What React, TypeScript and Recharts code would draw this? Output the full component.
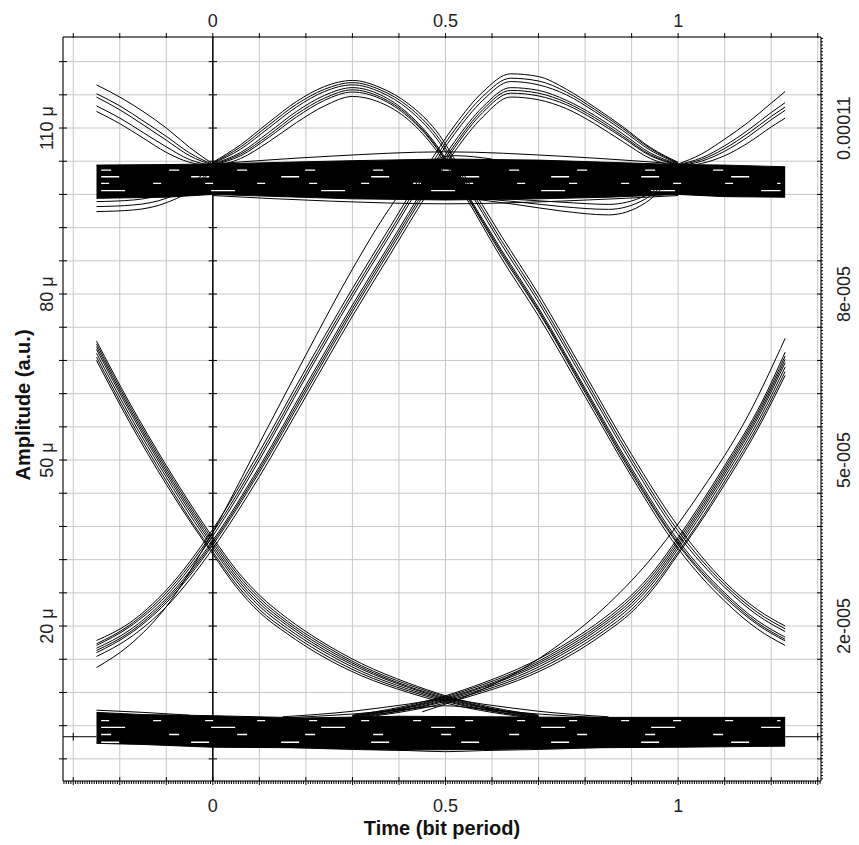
import React from 'react';
import { ComposedChart, Line, Area, XAxis, YAxis, CartesianGrid, ReferenceLine } from 'recharts';

const FONT = '"Liberation Sans", Arial, sans-serif';

// Axis domains (time in bit periods, amplitude in µ a.u.)
const X_DOMAIN = [-0.322, 1.307];
const Y_DOMAIN = [-8.0, 126.45];

// Tick positions and labels
const TOP_TICKS = [-0.3, -0.2, -0.1, 0, 0.1, 0.2, 0.3, 0.4, 0.5, 0.6, 0.7, 0.8, 0.9, 1.0, 1.1, 1.2, 1.3];
const X_LABELS = [0, 0.5, 1];
const BOTTOM_MINOR_STEP = 0.005;
const BOTTOM_TICKS = Array.from({ length: 326 }, (_, i) => +(-0.32 + i * BOTTOM_MINOR_STEP).toFixed(3));
const LEFT_TICKS = [-4, 2, 8, 14, 20, 26, 32, 38, 44, 50, 56, 62, 68, 74, 80, 86, 92, 98, 104, 110, 116, 122];
const LEFT_LABELS: Record<number, string> = { 20: '20 μ', 50: '50 μ', 80: '80 μ', 110: '110 μ' };
const RIGHT_LABELS: Record<number, string> = { 20: '2e-005', 50: '5e-005', 80: '8e-005', 110: '0.00011' };
const RIGHT_MINOR_STEP = 0.6;
const RIGHT_TICKS = Array.from({ length: 224 }, (_, i) => +(-7.6 + i * RIGHT_MINOR_STEP).toFixed(1));

// ---- Upper ("1") level band ----
const UB_X = [-0.25, -0.1, 0, 0.15, 0.3, 0.5, 0.7, 0.85, 1.0, 1.1, 1.23];
const UB_LO = [97.3, 97.5, 98.0, 97.6, 97.2, 97.0, 97.2, 97.5, 98.0, 97.6, 97.5];
const UB_HI = [103.3, 103.4, 103.5, 103.8, 104.1, 104.4, 104.2, 103.8, 103.4, 103.3, 103.0];
const UB_TEX_Y = [102.4, 101.2, 100.0, 98.7];
const LB_TEX_Y = [2.9, 1.7, 0.4, -1.0];

// ---- Lower ("0") level band ----
const LB_X = [-0.25, -0.15, 0, 0.2, 0.4, 0.6, 0.8, 1.0, 1.23];
const LB_LO = [-1.2, -1.4, -1.9, -2.0, -2.4, -2.3, -2.0, -1.9, -1.7];
const LB_HI = [4.4, 4.0, 3.8, 3.4, 3.7, 3.6, 3.5, 3.5, 3.5];

// ---- Hump after t=0 continuing into the falling edge (1 -> 0) ----
const H1F2_X = [0, 0.06, 0.12, 0.18, 0.24, 0.3, 0.36, 0.42, 0.48, 0.54, 0.62, 0.7, 0.8, 0.9, 1.0, 1.1, 1.17, 1.23];
const H1F2_Y = [
  [103.8, 107.0, 111.0, 114.8, 117.5, 118.6, 117.3, 114.4, 109.5, 101.5, 90.5, 80.0, 65.5, 51.0, 38.0, 28.0, 23.0, 20.0],
  [103.7, 106.6, 110.5, 114.3, 117.0, 118.2, 116.9, 113.9, 108.8, 100.8, 89.7, 79.2, 64.7, 50.2, 37.2, 27.5, 22.5, 19.5],
  [103.6, 106.2, 110.0, 113.8, 116.6, 117.8, 116.5, 113.4, 108.2, 100.2, 89.0, 78.5, 64.0, 49.5, 36.5, 27.0, 22.0, 19.0],
  [103.5, 105.6, 109.2, 113.0, 115.9, 117.3, 116.0, 112.6, 107.0, 99.0, 88.0, 77.5, 63.0, 48.5, 35.5, 26.0, 21.0, 18.0],
  [103.4, 105.3, 108.7, 112.5, 115.4, 116.9, 115.6, 112.3, 106.7, 98.7, 87.6, 77.1, 62.6, 48.0, 35.0, 25.6, 20.6, 17.6],
  [103.3, 105.0, 108.3, 112.0, 115.0, 116.5, 115.3, 112.0, 106.5, 98.5, 87.2, 76.8, 62.2, 47.6, 34.7, 25.2, 20.3, 17.3],
  [103.0, 104.5, 107.5, 111.0, 114.0, 115.7, 114.6, 111.5, 106.0, 98.0, 86.5, 76.0, 61.5, 47.0, 34.0, 24.5, 19.5, 16.5],
];

// ---- Rising edge (0 -> 1) continuing into the hump before t=1 ----
const R1H2_X = [-0.25, -0.18, -0.1, 0, 0.1, 0.2, 0.3, 0.38, 0.46, 0.52, 0.58, 0.64, 0.7, 0.76, 0.82, 0.88, 0.94, 1.0];
const R1H2_Y = [
  [17.4, 20.5, 26.5, 37.5, 51.5, 66.5, 81.0, 92.0, 103.0, 110.5, 116.5, 119.8, 119.3, 117.0, 113.8, 110.3, 106.5, 103.8],
  [16.8, 20.1, 26.0, 36.9, 50.7, 65.7, 80.2, 91.2, 102.2, 109.7, 115.7, 119.0, 118.5, 116.5, 113.4, 110.0, 106.3, 103.7],
  [16.5, 19.8, 25.5, 36.3, 50.0, 65.0, 79.5, 90.5, 101.5, 109.0, 115.0, 118.4, 117.8, 116.0, 113.0, 109.6, 106.0, 103.6],
  [16.0, 19.2, 25.0, 35.5, 48.8, 63.5, 78.0, 89.0, 100.0, 107.6, 113.8, 117.3, 116.8, 115.0, 112.3, 109.0, 105.5, 103.5],
  [15.6, 18.8, 24.6, 35.1, 48.3, 62.9, 77.4, 88.4, 99.4, 107.0, 113.3, 116.8, 116.3, 114.6, 111.9, 108.6, 105.2, 103.4],
  [15.2, 18.5, 24.2, 34.7, 47.8, 62.3, 76.8, 87.8, 98.8, 106.5, 112.8, 116.3, 115.8, 114.2, 111.5, 108.3, 105.0, 103.3],
  [14.5, 17.8, 23.5, 34.0, 47.0, 61.5, 76.0, 87.0, 98.0, 105.8, 112.0, 115.6, 115.1, 113.5, 110.8, 107.6, 104.5, 103.0],
];
const R1_OUT_X = [-0.25, -0.18, -0.1, 0, 0.1, 0.2, 0.3, 0.38, 0.45, 0.52, 0.6];
const R1_OUT_Y = [12.5, 16.5, 23.5, 37.0, 53.0, 69.0, 84.5, 95.5, 103.0, 105.0, 104.4];

// ---- Tails of the humps at the window edges ----
const TL_X = [-0.25, -0.2, -0.15, -0.1, -0.05, 0];
const TL_Y = [
  [117.8, 115.6, 113.0, 110.0, 106.5, 103.5],
  [116.2, 114.0, 111.3, 108.5, 105.5, 103.4],
  [115.6, 113.3, 110.6, 107.8, 105.0, 103.3],
  [114.0, 111.8, 109.2, 106.6, 104.3, 103.2],
  [113.0, 110.8, 108.2, 105.6, 103.8, 103.2],
];
const TR_X = [1.0, 1.05, 1.1, 1.15, 1.2, 1.23];
const TR_Y = [
  [103.5, 105.3, 108.0, 111.0, 114.5, 116.6],
  [103.4, 104.6, 106.8, 109.6, 112.8, 114.6],
  [103.3, 104.3, 106.3, 109.0, 112.1, 113.8],
  [103.2, 104.0, 105.8, 108.4, 111.5, 113.2],
  [103.1, 103.6, 105.0, 107.3, 110.2, 111.8],
];

// ---- Falling edge into the low level (after t=0) ----
const F1_X = [-0.25, -0.18, -0.1, -0.04, 0, 0.05, 0.1, 0.16, 0.23, 0.32, 0.42, 0.5, 0.6, 0.7];
const F1_Y = [
  [71.5, 60.5, 49.0, 41.0, 36.0, 30.2, 25.6, 21.4, 17.4, 13.2, 9.7, 7.4, 5.3, 3.9],
  [71.0, 60.0, 48.5, 40.5, 35.5, 29.7, 25.1, 20.9, 17.0, 12.8, 9.4, 7.2, 5.1, 3.8],
  [70.5, 59.5, 48.0, 40.0, 35.0, 29.2, 24.6, 20.5, 16.6, 12.5, 9.1, 7.0, 5.0, 3.7],
  [70.0, 59.0, 47.5, 39.5, 34.5, 28.7, 24.1, 20.1, 16.2, 12.2, 8.9, 6.8, 4.9, 3.6],
  [69.3, 58.3, 46.9, 38.9, 34.0, 28.2, 23.6, 19.6, 15.8, 11.8, 8.6, 6.6, 4.7, 3.5],
  [68.6, 57.6, 46.2, 38.2, 33.4, 27.6, 23.0, 19.1, 15.3, 11.4, 8.3, 6.4, 4.6, 3.4],
  [68.0, 57.0, 45.6, 37.8, 33.0, 27.1, 22.5, 18.6, 14.8, 11.0, 8.0, 6.1, 4.4, 3.3],
];

// ---- Rising edge out of the low level (before t=1) ----
const R2_X = [0.3, 0.4, 0.5, 0.58, 0.68, 0.77, 0.84, 0.9, 0.95, 1.0, 1.04, 1.1, 1.18, 1.23];
const R2_Y = [
  [3.9, 5.3, 7.4, 9.7, 13.2, 17.4, 21.4, 25.6, 30.2, 36.0, 41.0, 49.0, 60.5, 69.5],
  [3.8, 5.1, 7.2, 9.4, 12.8, 17.0, 20.9, 25.1, 29.7, 35.5, 40.5, 48.5, 60.0, 68.8],
  [3.7, 5.0, 7.0, 9.1, 12.5, 16.6, 20.5, 24.6, 29.2, 35.0, 40.0, 48.0, 59.5, 68.2],
  [3.6, 4.9, 6.8, 8.9, 12.2, 16.2, 20.1, 24.1, 28.7, 34.5, 39.5, 47.5, 59.0, 67.6],
  [3.5, 4.7, 6.6, 8.6, 11.8, 15.8, 19.6, 23.6, 28.2, 34.0, 38.9, 46.9, 58.3, 66.8],
  [3.4, 4.6, 6.4, 8.3, 11.4, 15.3, 19.1, 23.0, 27.6, 33.4, 38.2, 46.2, 57.6, 66.0],
  [3.3, 4.4, 6.1, 8.0, 11.0, 14.8, 18.6, 22.5, 27.1, 33.0, 37.8, 45.6, 57.0, 65.3],
];
const R2_OUT_X = [0.45, 0.55, 0.65, 0.75, 0.85, 0.95, 1.05, 1.15, 1.23];
const R2_OUT_Y = [4.5, 7.5, 11.5, 17.0, 24.0, 33.0, 44.5, 58.0, 72.0];

// ---- Band edge traces ----
const UB_SP_X = [0, 0.25, 0.5, 0.75, 1.0];
const UB_SP_Y = [
  [103.5, 104.9, 105.7, 104.9, 103.5],
  [97.8, 96.8, 96.3, 96.8, 97.8],
];
const UB_DIPL_X = [-0.25, -0.17, -0.1, -0.04, 0.0];
const UB_DIPL_Y = [
  [96.7, 97.0, 98.2, 100.5, 103.0],
  [95.8, 96.1, 97.3, 99.8, 102.8],
  [94.9, 95.2, 96.5, 99.2, 102.6],
];
const UB_DIPR_X = [0.55, 0.65, 0.75, 0.85, 0.93, 1.0];
const UB_DIPR_Y = [
  [97.3, 96.2, 95.0, 94.3, 96.5, 102.5],
  [97.4, 96.7, 95.8, 95.3, 97.2, 102.7],
  [97.5, 97.1, 96.6, 96.2, 97.8, 102.9],
];
const LB_SP_X = [0.15, 0.3, 0.42, 0.5, 0.58, 0.7, 0.85];
const LB_SP_Y = [
  [3.6, 4.6, 5.9, 6.8, 5.9, 4.6, 3.6],
  [3.4, 4.1, 5.0, 5.6, 5.0, 4.1, 3.4],
  [-1.9, -2.3, -2.5, -2.7, -2.5, -2.3, -1.9],
];
const LB_LEFT_X = [-0.25, -0.15, -0.05];
const LB_LEFT_Y = [4.8, 4.4, 3.9];

const DATA_START = -0.25;
const DATA_END = 1.23;

const isMult = (v: number, base: number, step: number) => {
  const q = (v - base) / step;
  return Math.abs(q - Math.round(q)) < 1e-6;
};

const toPts = (xs: number[], ys: number[]) => xs.map((x, i) => ({ x, y: ys[i] }));

const BottomTick = (props: any) => {
  const { x, y, payload } = props;
  const v = payload.value as number;
  const major = isMult(v, 0, 0.1);
  const label = X_LABELS.find((l) => Math.abs(l - v) < 1e-6);
  return (
    <g>
      <line x1={x} x2={x} y1={major ? y - 4 : y} y2={major ? y + 4 : y + 3} stroke="#000" strokeWidth={1} />
      {label !== undefined && (
        <text x={x} y={y + 31} textAnchor="middle" fontSize={18} fill="#222" fontFamily={FONT}>
          {String(label)}
        </text>
      )}
    </g>
  );
};

const TopTick = (props: any) => {
  const { x, y, payload } = props;
  const v = payload.value as number;
  const label = X_LABELS.find((l) => Math.abs(l - v) < 1e-6);
  return (
    <g>
      <line x1={x} x2={x} y1={y - 4} y2={y + 1} stroke="#000" strokeWidth={1} />
      {label !== undefined && (
        <text x={x} y={y - 10} textAnchor="middle" fontSize={18} fill="#222" fontFamily={FONT}>
          {String(label)}
        </text>
      )}
    </g>
  );
};

const LeftTick = (props: any) => {
  const { x, y, payload } = props;
  const v = payload.value as number;
  const label = LEFT_LABELS[v];
  return (
    <g>
      <line x1={x - 4} x2={x + 4} y1={y} y2={y} stroke="#000" strokeWidth={1} />
      {label && (
        <text x={x - 10} y={y} transform={`rotate(-90, ${x - 10}, ${y})`} textAnchor="middle" fontSize={18} fill="#222" fontFamily={FONT}>
          {label}
        </text>
      )}
    </g>
  );
};

const RightTick = (props: any) => {
  const { x, y, payload } = props;
  const v = payload.value as number;
  const major = isMult(v, -4, 6);
  const label = RIGHT_LABELS[Math.round(v)];
  return (
    <g>
      <line x1={major ? x - 4 : x} x2={x + 2} y1={y} y2={y} stroke="#000" strokeWidth={1} />
      {major && label && (
        <text x={x + 29} y={y} transform={`rotate(-90, ${x + 29}, ${y})`} textAnchor="middle" fontSize={18} fill="#222" fontFamily={FONT}>
          {label}
        </text>
      )}
    </g>
  );
};

const BottomTitle = (props: any) => {
  const vb = props.viewBox || { x: 55, y: 773, width: 758, height: 44 };
  return (
    <text x={vb.x + vb.width / 2} y={vb.y + 54} textAnchor="middle" fontSize={20} fontWeight="bold" fill="#111" fontFamily={FONT}>
      Time (bit period)
    </text>
  );
};

const LeftTitle = (props: any) => {
  const vb = props.viewBox || { x: 10, y: 29, width: 45, height: 744 };
  const cx = vb.x + 12;
  const cy = vb.y + vb.height / 2 - 4;
  return (
    <text x={cx} y={cy} transform={`rotate(-90, ${cx}, ${cy})`} textAnchor="middle" fontSize={20} fontWeight="bold" fill="#111" fontFamily={FONT}>
      Amplitude (a.u.)
    </text>
  );
};

const curve = (key: string, xs: number[], ys: number[], w = 1, color = '#000', dash?: string) => (
  <Line
    key={key}
    data={toPts(xs, ys)}
    dataKey="y"
    xAxisId="b"
    yAxisId="l"
    type="monotone"
    stroke={color}
    strokeWidth={w}
    strokeDasharray={dash}
    dot={false}
    activeDot={false}
    isAnimationActive={false}
    legendType="none"
  />
);

const band = (key: string, xs: number[], lo: number[], hi: number[]) => (
  <Area
    key={key}
    data={xs.map((x, i) => ({ x, r: [lo[i], hi[i]] }))}
    dataKey="r"
    xAxisId="b"
    yAxisId="l"
    type="linear"
    stroke="#000"
    strokeWidth={1}
    fill="#000"
    fillOpacity={1}
    dot={false}
    activeDot={false}
    isAnimationActive={false}
  />
);

const TEX_DASH = ['10 58', '18 72', '8 44', '24 86'];

export default function App() {
  return (
    <div style={{ width: 851, height: 837, background: '#fff' }}>
      <ComposedChart width={851} height={837} margin={{ top: 4, right: 8, bottom: 20, left: 10 }}>
        <CartesianGrid xAxisId="t" yAxisId="l" stroke="#c8c8c8" strokeWidth={1} />
        <XAxis
          xAxisId="b"
          dataKey="x"
          type="number"
          orientation="bottom"
          domain={X_DOMAIN}
          allowDataOverflow
          ticks={BOTTOM_TICKS}
          interval={0}
          tick={<BottomTick />}
          tickLine={false}
          tickSize={0}
          tickMargin={0}
          height={44}
          axisLine={{ stroke: '#000', strokeWidth: 1 }}
          label={(p: any) => <BottomTitle {...p} />}
        />
        <XAxis
          xAxisId="t"
          dataKey="x"
          type="number"
          orientation="top"
          domain={X_DOMAIN}
          allowDataOverflow
          ticks={TOP_TICKS}
          interval={0}
          tick={<TopTick />}
          tickLine={false}
          tickSize={0}
          tickMargin={0}
          height={25}
          axisLine={{ stroke: '#000', strokeWidth: 1 }}
        />
        <YAxis
          yAxisId="l"
          type="number"
          orientation="left"
          domain={Y_DOMAIN}
          allowDataOverflow
          ticks={LEFT_TICKS}
          interval={0}
          tick={<LeftTick />}
          tickLine={false}
          tickSize={0}
          tickMargin={0}
          width={45}
          axisLine={{ stroke: '#000', strokeWidth: 1 }}
          label={(p: any) => <LeftTitle {...p} />}
        />
        <YAxis
          yAxisId="r"
          type="number"
          orientation="right"
          domain={Y_DOMAIN}
          allowDataOverflow
          ticks={RIGHT_TICKS}
          interval={0}
          tick={<RightTick />}
          tickLine={false}
          tickSize={0}
          tickMargin={0}
          width={30}
          axisLine={{ stroke: '#000', strokeWidth: 1 }}
        />

        <ReferenceLine xAxisId="b" yAxisId="l" x={0} stroke="#000" strokeWidth={1.5} />
        {LEFT_TICKS.map((v) => (
          <ReferenceLine
            key={'zt' + v}
            xAxisId="b"
            yAxisId="l"
            segment={[{ x: -0.009, y: v }, { x: 0.009, y: v }]}
            stroke="#000"
            strokeWidth={1}
          />
        ))}
        <ReferenceLine xAxisId="b" yAxisId="l" segment={[{ x: X_DOMAIN[0], y: 0 }, { x: DATA_START, y: 0 }]} stroke="#000" strokeWidth={1} />
        <ReferenceLine xAxisId="b" yAxisId="l" segment={[{ x: DATA_END, y: 0 }, { x: X_DOMAIN[1], y: 0 }]} stroke="#000" strokeWidth={1} />
        <ReferenceLine xAxisId="b" yAxisId="l" segment={[{ x: -0.3, y: -0.7 }, { x: -0.3, y: 0.7 }]} stroke="#000" strokeWidth={1} />
        <ReferenceLine xAxisId="b" yAxisId="l" segment={[{ x: 1.3, y: -0.7 }, { x: 1.3, y: 0.7 }]} stroke="#000" strokeWidth={1} />

        {band('ub', UB_X, UB_LO, UB_HI)}
        {band('lb', LB_X, LB_LO, LB_HI)}
        {UB_TEX_Y.map((y, i) => curve('ubt' + i, [DATA_START + 0.01, DATA_END - 0.01], [y, y], 1.3, '#fff', TEX_DASH[i]))}
        {LB_TEX_Y.map((y, i) => curve('lbt' + i, [DATA_START + 0.01, DATA_END - 0.01], [y, y], 1.3, '#fff', TEX_DASH[(i + 2) % 4]))}

        {UB_SP_Y.map((ys, i) => curve('ubsp' + i, UB_SP_X, ys))}
        {UB_DIPL_Y.map((ys, i) => curve('ubdl' + i, UB_DIPL_X, ys))}
        {UB_DIPR_Y.map((ys, i) => curve('ubdr' + i, UB_DIPR_X, ys))}
        {LB_SP_Y.map((ys, i) => curve('lbsp' + i, LB_SP_X, ys))}
        {curve('lbl', LB_LEFT_X, LB_LEFT_Y)}

        {H1F2_Y.map((ys, i) => curve('h1' + i, H1F2_X, ys))}
        {R1H2_Y.map((ys, i) => curve('r1' + i, R1H2_X, ys))}
        {curve('r1o', R1_OUT_X, R1_OUT_Y)}
        {TL_Y.map((ys, i) => curve('tl' + i, TL_X, ys))}
        {TR_Y.map((ys, i) => curve('tr' + i, TR_X, ys))}
        {F1_Y.map((ys, i) => curve('f1' + i, F1_X, ys))}
        {R2_Y.map((ys, i) => curve('r2' + i, R2_X, ys))}
        {curve('r2o', R2_OUT_X, R2_OUT_Y)}
      </ComposedChart>
    </div>
  );
}
